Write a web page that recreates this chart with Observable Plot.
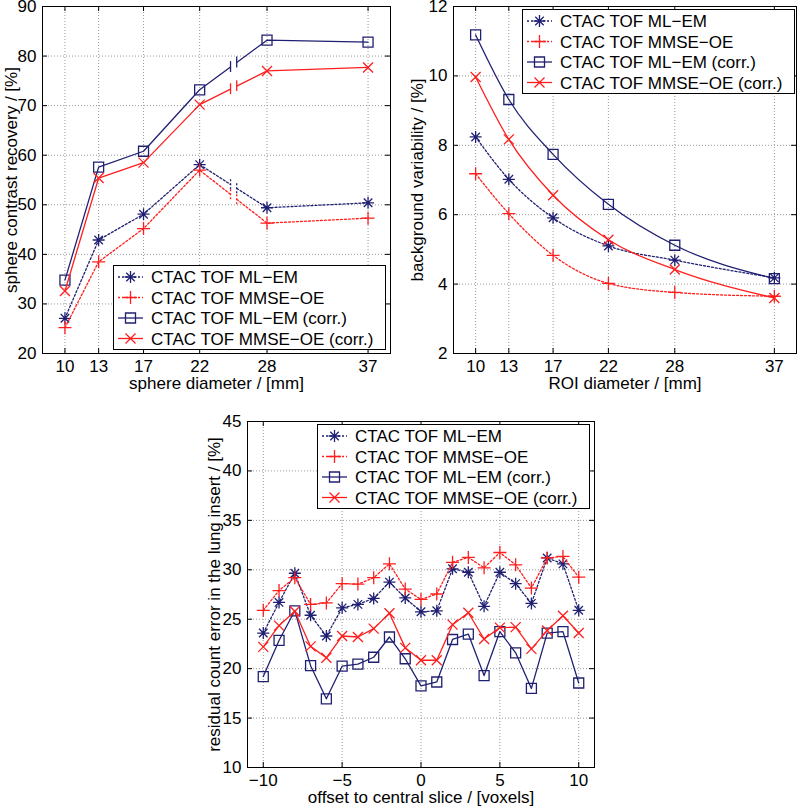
<!DOCTYPE html>
<html><head><meta charset="utf-8">
<script src="https://cdn.jsdelivr.net/npm/d3@7"></script>
<script src="https://cdn.jsdelivr.net/npm/@observablehq/plot@0.6"></script>
<style>
body{margin:0;background:#fff;}
#wrap{position:relative;width:800px;height:806px;font-family:"Liberation Sans",Arial,Helvetica,sans-serif;background:#fff;}
.panel,.legend{position:absolute;}
</style></head><body><div id="wrap"></div>
<script>
// ---------- data ----------
const seriesNames = ["CTAC TOF ML\u2212EM", "CTAC TOF MMSE\u2212OE", "CTAC TOF ML\u2212EM (corr.)", "CTAC TOF MMSE\u2212OE (corr.)"];

// Panel A: sphere contrast recovery
const sphereDiameters = [10, 13, 17, 22, 28, 37];
const recMLEM      = [27.1, 42.9, 48.1, 58.1, 49.4, 50.4];
const recMMSE      = [25.2, 38.5, 45.2, 57.0, 46.3, 47.3];
const recMLEMcorr  = [34.8, 57.6, 60.8, 73.2, 83.2, 82.8];
const recMMSEcorr  = [32.6, 55.4, 58.5, 70.2, 77.0, 77.7];
const recYTicks = [20, 30, 40, 50, 60, 70, 80, 90];
const recBreak = [24.75, 25.3];

// Panel B: background variability
const roiDiameters = [10, 13, 17, 22, 28, 37];
const bvMLEM      = [8.24, 7.02, 5.91, 5.10, 4.69, 4.18];
const bvMMSE      = [7.18, 6.03, 4.83, 4.02, 3.76, 3.65];
const bvMLEMcorr  = [11.18, 9.32, 7.74, 6.30, 5.12, 4.16];
const bvMMSEcorr  = [9.97, 8.17, 6.56, 5.28, 4.42, 3.60];
const bvYTicks = [2, 4, 6, 8, 10, 12];

// Panel C: residual count error in lung insert
const offsets = [-10, -9, -8, -7, -6, -5, -4, -3, -2, -1, 0, 1, 2, 3, 4, 5, 6, 7, 8, 9, 10];
const lungMLEM     = [23.6, 26.7, 29.65, 25.4, 23.3, 26.15, 26.5, 27.1, 28.75, 27.15, 25.75, 25.85, 30.1, 29.75, 26.3, 29.75, 28.6, 26.6, 31.2, 30.6, 25.9];
const lungMMSE     = [25.9, 27.9, 29.2, 26.5, 26.65, 28.6, 28.55, 29.2, 30.6, 28.05, 27.0, 27.55, 30.75, 31.25, 30.2, 31.75, 30.5, 28.15, 31.2, 31.35, 29.25];
const lungMLEMcorr = [19.2, 22.85, 25.85, 20.3, 16.95, 20.25, 20.45, 21.15, 23.2, 21.0, 18.25, 18.65, 22.95, 23.5, 19.3, 23.75, 21.6, 18.0, 23.6, 23.75, 18.55];
const lungMMSEcorr = [22.2, 24.35, 25.8, 22.25, 21.1, 23.3, 23.2, 24.05, 25.6, 22.1, 20.85, 20.85, 24.45, 25.65, 23.0, 24.15, 24.2, 22.0, 23.85, 25.35, 23.6];
const lungXTicks = [-10, -5, 0, 5, 10];
const lungYTicks = [10, 15, 20, 25, 30, 35, 40, 45];

// ---------- styles ----------
const NAVY = "#202072", RED = "#ff1e1e";
const FONT = '"Liberation Sans", Arial, Helvetica, sans-serif';
const starSym = {draw(c, s) { const r = Math.sqrt(s / Math.PI), d = r * 0.7071;
  c.moveTo(-r, 0); c.lineTo(r, 0); c.moveTo(0, -r); c.lineTo(0, r);
  c.moveTo(-d, -d); c.lineTo(d, d); c.moveTo(-d, d); c.lineTo(d, -d); }};
const plusSym = {draw(c, s) { const r = Math.sqrt(s / Math.PI);
  c.moveTo(-r, 0); c.lineTo(r, 0); c.moveTo(0, -r); c.lineTo(0, r); }};
const squareSym = {draw(c, s) { const r = Math.sqrt(s / Math.PI); c.rect(-r, -r, 2 * r, 2 * r); }};
const crossSym = {draw(c, s) { const r = Math.sqrt(s / Math.PI);
  c.moveTo(-r, -r); c.lineTo(r, r); c.moveTo(-r, r); c.lineTo(r, -r); }};
const styles = [
  {stroke: NAVY, dash: "2,2", symbol: starSym, r: 6},
  {stroke: RED, dash: "2,2", symbol: plusSym, r: 6.5},
  {stroke: NAVY, dash: null, symbol: squareSym, r: 5},
  {stroke: RED, dash: null, symbol: crossSym, r: 5}
];
const minusFmt = d => d < 0 ? "\u2212" + (-d) : String(d);

function buildRows(xs, ysList, brk) {
  const rows = [], bars = [];
  ysList.forEach((ys, s) => {
    xs.forEach((x, i) => {
      let seg = 0;
      if (brk && x > brk[1]) seg = 1;
      rows.push({s, x, y: ys[i], seg, pt: true});
    });
    if (brk) {
      const j = xs.findIndex((x, i) => x < brk[0] && xs[i + 1] > brk[1]);
      const f = b => ys[j] + (ys[j + 1] - ys[j]) * (b - xs[j]) / (xs[j + 1] - xs[j]);
      rows.push({s, x: brk[0], y: f(brk[0]), seg: 0, pt: false});
      rows.push({s, x: brk[1], y: f(brk[1]), seg: 1, pt: false});
      bars.push({s, x: brk[0], y: f(brk[0])}, {s, x: brk[1], y: f(brk[1])});
    }
  });
  rows.sort((a, b) => a.x - b.x);
  return {rows, bars};
}

function panel(cfg) {
  const {width, height, m, xDomain, yDomain, xTicks, yTicks, xLabel, yLabel, yLabelDx, xs, ysList, curve, brk, barHalf, xFmt} = cfg;
  const plotW = width - m[1] - m[3], plotH = height - m[0] - m[2];
  const {rows, bars} = buildRows(xs, ysList, brk);
  const marks = [
    Plot.gridX(xTicks, {stroke: "#999", strokeOpacity: 1, strokeDasharray: "1,2", strokeWidth: 1}),
    Plot.gridY(yTicks, {stroke: "#999", strokeOpacity: 1, strokeDasharray: "1,2", strokeWidth: 1}),
    Plot.tickX(xTicks, {x: d => d, insetTop: plotH - 5, stroke: "#000"}),
    Plot.tickX(xTicks, {x: d => d, insetBottom: plotH - 5, stroke: "#000"}),
    Plot.tickY(yTicks, {y: d => d, insetLeft: plotW - 5, stroke: "#000"}),
    Plot.tickY(yTicks, {y: d => d, insetRight: plotW - 5, stroke: "#000"}),
    Plot.axisX(xTicks, {tickSize: 0, tickPadding: 6, tickFormat: xFmt || (d => String(d)), label: null, fontSize: 17}),
    Plot.axisY(yTicks, {tickSize: 0, tickPadding: 6, tickFormat: d => String(d), label: null, fontSize: 17}),
    Plot.text([xLabel], {frameAnchor: "bottom", textAnchor: "middle", lineAnchor: "middle", dy: 30, fontSize: 17, fill: "#000"}),
    Plot.text([yLabel], {frameAnchor: "left", textAnchor: "middle", lineAnchor: "middle", rotate: -90, dx: yLabelDx, fontSize: 17, fill: "#000"})
  ];
  styles.forEach((st, s) => {
    const data = rows.filter(r => r.s === s);
    marks.push(Plot.line(data, {x: "x", y: "y", z: "seg", stroke: st.stroke, strokeWidth: 1.3,
      strokeDasharray: st.dash, curve: curve || "linear"}));
    if (bars.length) {
      marks.push(Plot.ruleX(bars.filter(b => b.s === s), {x: "x", y1: b => b.y - barHalf, y2: b => b.y + barHalf,
        stroke: st.stroke, strokeWidth: 1.3, strokeDasharray: st.dash}));
    }
    marks.push(Plot.dot(data.filter(r => r.pt), {x: "x", y: "y", symbol: st.symbol, r: st.r,
      stroke: st.stroke, fill: "none", strokeWidth: 1.3}));
  });
  marks.push(Plot.frame({stroke: "#000", strokeWidth: 1}));
  return Plot.plot({
    width, height,
    marginTop: m[0], marginRight: m[1], marginBottom: m[2], marginLeft: m[3],
    x: {domain: xDomain},
    y: {domain: yDomain},
    style: {fontFamily: FONT, fontSize: "17px", background: "white", color: "#000", overflow: "visible"},
    marks
  });
}

function legend(left, top) {
  const W = 273, H = 85, rowsY = [12, 32.5, 53, 73.5];
  const svg = d3.create("svg").attr("class", "legend").attr("width", W).attr("height", H)
    .style("left", left + "px").style("top", top + "px").style("overflow", "visible");
  svg.append("rect").attr("x", 0.5).attr("y", 0.5).attr("width", W - 1).attr("height", H - 1)
    .attr("fill", "#fff").attr("stroke", "#000").attr("stroke-width", 1);
  styles.forEach((st, i) => {
    const y = rowsY[i];
    svg.append("line").attr("x1", 5).attr("x2", 30).attr("y1", y).attr("y2", y)
      .attr("stroke", st.stroke).attr("stroke-width", 1.3).attr("stroke-dasharray", st.dash);
    svg.append("path").attr("transform", `translate(17.5,${y})`)
      .attr("d", d3.symbol(st.symbol, st.r * st.r * Math.PI)())
      .attr("fill", "none").attr("stroke", st.stroke).attr("stroke-width", 1.3);
    svg.append("text").attr("x", 38).attr("y", y).attr("dy", "0.36em")
      .attr("font-family", FONT).attr("font-size", 17).attr("fill", "#000").text(seriesNames[i]);
  });
  return svg.node();
}

const wrap = document.getElementById("wrap");
function place(node, left, top) {
  const div = document.createElement("div");
  div.className = "panel"; div.style.left = left + "px"; div.style.top = top + "px";
  div.appendChild(node); wrap.appendChild(div);
}

place(panel({
  width: 400, height: 400, m: [6, 10, 47, 42],
  xDomain: [8, 39], yDomain: [20, 90], xTicks: sphereDiameters, yTicks: recYTicks,
  xLabel: "sphere diameter / [mm]", yLabel: "sphere contrast recovery / [%]", yLabelDx: -31,
  xs: sphereDiameters, ysList: [recMLEM, recMMSE, recMLEMcorr, recMMSEcorr], brk: recBreak, barHalf: 1.1
}), 0, 0);

place(panel({
  width: 400, height: 400, m: [6, 4, 47, 53],
  xDomain: [8, 39], yDomain: [2, 12], xTicks: roiDiameters, yTicks: bvYTicks,
  xLabel: "ROI diameter / [mm]", yLabel: "background variability / [%]", yLabelDx: -36,
  xs: roiDiameters, ysList: [bvMLEM, bvMMSE, bvMLEMcorr, bvMMSEcorr], curve: "monotone-x"
}), 400, 0);

place(panel({
  width: 420, height: 406, m: [21, 16, 39, 57],
  xDomain: [-11, 11], yDomain: [10, 45], xTicks: lungXTicks, yTicks: lungYTicks, xFmt: minusFmt,
  xLabel: "offset to central slice / [voxels]", yLabel: "residual count error in the lung insert / [%]", yLabelDx: -33,
  xs: offsets, ysList: [lungMLEM, lungMMSE, lungMLEMcorr, lungMMSEcorr]
}), 190, 400);

wrap.appendChild(legend(113, 265));
wrap.appendChild(legend(522, 9));
wrap.appendChild(legend(317, 424));
</script></body></html>
